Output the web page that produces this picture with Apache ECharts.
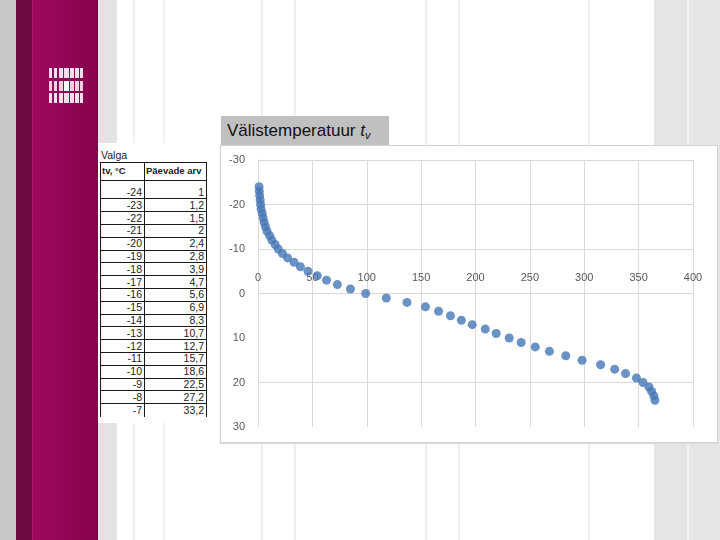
<!DOCTYPE html>
<html>
<head>
<meta charset="utf-8">
<script src="https://cdn.jsdelivr.net/npm/echarts@6/dist/echarts.min.js"></script>
<style>
  html, body { margin:0; padding:0; }
  body { width:720px; height:540px; position:relative; overflow:hidden; background:#ffffff; font-family:"Liberation Sans", Arial, sans-serif; }
  .abs { position:absolute; }
  #chart { position:absolute; left:0; top:0; width:720px; height:540px; z-index:5; }
  #title { position:absolute; left:221px; top:116px; width:168px; height:29px; background:#c0c0c0; z-index:6;
           font-size:17px; line-height:29px; color:#111; padding-left:6px; box-sizing:border-box; white-space:nowrap; }
  #title sub { font-size:11px; font-style:italic; vertical-align:-3px; line-height:0; }
  #table .c { position:absolute; font-size:10.5px; color:#222; white-space:nowrap; }
  #table .h { font-size:9.5px; }
</style>
</head>
<body>
<div id="bg"></div>
<div id="table"></div>
<div id="title">Välistemperatuur <i>t</i><sub>v</sub></div>
<div id="chart"></div>
<script>
// ---- data ----
var temperatures = [-24,-23,-22,-21,-20,-19,-18,-17,-16,-15,-14,-13,-12,-11,-10,-9,-8,-7,
  -6,-5,-4,-3,-2,-1,0,1,2,3,4,5,6,7,8,9,10,11,12,13,14,15,16,17,18,19,20,21,22,23,24];
var dayCounts = [1,1.2,1.5,2,2.4,2.8,3.9,4.7,5.6,6.9,8.3,10.7,12.7,15.7,18.6,22.5,27.2,33.2,
  39,46,54.5,63,73,85,99,118,137,154,166,177,187,197,209,219,231,242,255,268,283,298,315,328,338,348,354,359.5,362,364,365];
var tableTitle = "Valga";
var tableHeaders = ["tv, °C", "Päevade arv"];
var tableRowCount = 18;
var xTicks = {min:0, max:400, interval:50};
var yTicks = {min:-30, max:30, interval:10};

// ---- slide background ----
var bg = document.getElementById('bg');
function box(l,t,w,h,style){
  var d=document.createElement('div'); d.className='abs';
  d.style.left=l+'px'; d.style.top=t+'px'; d.style.width=w+'px'; d.style.height=h+'px';
  for (var k in style) d.style[k]=style[k];
  bg.appendChild(d); return d;
}
box(0,0,16,540,{background:'#c7c8ca'});
box(16,0,16,540,{background:'#6c0b3f'});
box(32,0,1,540,{background:'#b0186e'});
box(33,0,65,540,{background:'linear-gradient(to right,#9e0860,#86034b)'});
box(98,0,19,540,{background:'#e3e3e5'});
[133,163,261,294,425,458,588].forEach(function(x){ box(x,0,2,540,{background:'#efefef'}); });
box(654,0,33,540,{background:'#e5e5e7'});
box(687,0,2,540,{background:'#f2f2f2'});
box(689,0,31,540,{background:'#e6e6e8'});
// logo
var logoRows=[68,80.5,93];
var logoBars=[[49,3],[53.5,3.5],[58.5,4],[63.5,5],[69.5,4],[75,3.5],[79.5,3]];
logoRows.forEach(function(y,ri){
  logoBars.forEach(function(b,bi){
    var col = (ri===1 && bi===3) ? '#ffffff' : (ri===1 ? '#f4cfe2' : '#f7dcea');
    box(b[0],y,b[1],10,{background:col});
  });
});
// chart frame
box(220,145,498,298,{background:'#ffffff',border:'1px solid #d2d2d2',boxSizing:'border-box',boxShadow:'0 1px 1px #dcdcdc'});
// table image area
box(98,143,120,280,{background:'#ffffff'});

// ---- table ----
var tb=document.getElementById('table');
function cell(txt,l,cy,w,align,bold){
  var d=document.createElement('div'); d.className='c'+(bold?' h':'');
  d.style.left=l+'px'; d.style.top=(cy-7)+'px'; d.style.width=w+'px'; d.style.height='14px'; d.style.lineHeight='14px';
  d.style.textAlign=align; if(bold) d.style.fontWeight='bold';
  d.textContent=txt; tb.appendChild(d);
}
function line(l,t,w,h){ var d=document.createElement('div'); d.className='abs'; d.style.left=l+'px'; d.style.top=t+'px'; d.style.width=w+'px'; d.style.height=h+'px'; d.style.background='#1a1a1a'; tb.appendChild(d); }
var xL=100, xM=144, xR=206, rowH=12.8, row0=192;
cell(tableTitle,xL+1,155,60,'left',false);
cell(tableHeaders[0],xL+2,171,42,'left',true);
cell(tableHeaders[1],xM+2,171,60,'left',true);
line(xL,162,xR-xL+1,1); line(xL,180,xR-xL+1,1);
for (var i=0;i<tableRowCount;i++){
  var cy=row0+i*rowH;
  cell(String(temperatures[i]),xL,cy,xM-xL-2,'right',false);
  cell(String(dayCounts[i]).replace('.',','),xM,cy,xR-xM-2,'right',false);
  if(i<tableRowCount-1) line(xL,Math.round(cy+6.4),xR-xL+1,1);
}
var tBottom=Math.round(row0+(tableRowCount-1)*rowH+7);
line(xL,162,1,tBottom-162); line(xM,162,1,tBottom-162); line(xR,162,1,tBottom-162);

// ---- chart ----
var points = dayCounts.map(function(d,i){ return [d, temperatures[i]]; });
var chart = echarts.init(document.getElementById('chart'), null, {renderer:'canvas'});
var gridCol='#d9d9d9', labCol='#595959';
var gridTop=160, gridBottom=113, gridH=540-gridTop-gridBottom;
// horizontal axis placed at y = 0 (vertical axis is reversed: -30 at top)
var zeroOffset = -gridH*(0-yTicks.min)/(yTicks.max-yTicks.min);
chart.setOption({
  backgroundColor:'transparent',
  animation:false,
  grid:{left:258, top:gridTop, right:27, bottom:gridBottom, containLabel:false},
  xAxis:{type:'value', position:'top', offset:zeroOffset, min:xTicks.min, max:xTicks.max, interval:xTicks.interval,
    axisLine:{show:true, onZero:false, lineStyle:{color:gridCol}},
    axisTick:{show:false},
    axisLabel:{margin:10, color:labCol, fontSize:11, fontFamily:'Liberation Sans'},
    splitLine:{show:true, lineStyle:{color:gridCol, width:1}}},
  yAxis:{type:'value', inverse:true, min:yTicks.min, max:yTicks.max, interval:yTicks.interval,
    axisLine:{show:true, onZero:false, lineStyle:{color:gridCol}},
    axisTick:{show:false},
    axisLabel:{margin:13, color:labCol, fontSize:11, fontFamily:'Liberation Sans'},
    splitLine:{show:true, lineStyle:{color:[gridCol,gridCol,gridCol,gridCol,'rgba(0,0,0,0)',gridCol,'rgba(0,0,0,0)'], width:1}}},
  series:[{type:'scatter', data:points, symbol:'circle', symbolSize:9,
    itemStyle:{color:'#4677b6'}}]
});
</script>
</body>
</html>
